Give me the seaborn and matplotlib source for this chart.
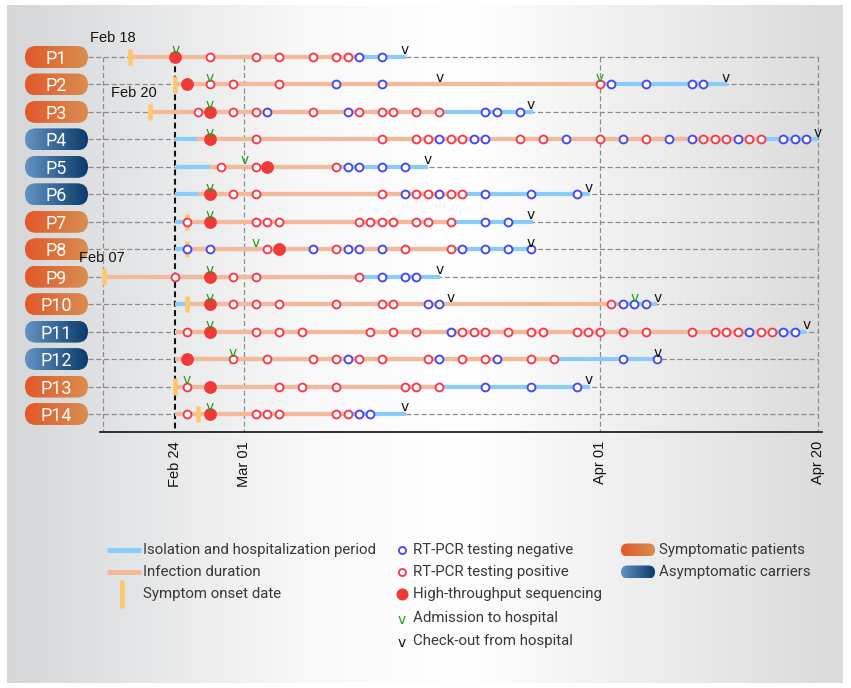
import numpy as np
import pandas as pd
import matplotlib
matplotlib.use("Agg")
import matplotlib.pyplot as plt
from matplotlib.colors import LinearSegmentedColormap
from matplotlib.patches import FancyBboxPatch
import seaborn as sns


# ----------------------- Data (days counted from Feb 24, 2020)
patients = ["P1", "P2", "P3", "P4", "P5", "P6", "P7",
            "P8", "P9", "P10", "P11", "P12", "P13", "P14"]

symptomatic = [True, True, True, False, False, False, True,
               True, True, True, False, False, True, True]

# symptom onset (left of Feb 24 the axis is compressed)
onset = [-4.0, 0.0, -2.2, None, None, None, 1.0,
         1.0, -6.2, 1.0, None, None, 0.0, 2.0]

onset_labels = {"P1": "Feb 18", "P3": "Feb 20", "P9": "Feb 07"}

infection = [(-4.0, 15.6), (0.0, 37.0), (-2.2, 23.3), (1.85, 51.4), (3.0, 14.3),
             (2.0, 25.4), (1.0, 24.4), (1.0, 24.4), (-6.2, 16.4), (1.0, 38.5),
             (0.0, 52.4), (0.0, 33.4), (0.0, 23.35), (0.0, 15.5)]

isolation = [[(0, 20.1)], [(0, 23), (37, 48.1)], [(0, 31.2)], [(0, 56)], [(0, 22)],
             [(0, 36.1)], [(0, 31.2)], [(0, 31.2)], [(0, 23.06)], [(0, 24), (38, 42)],
             [(0, 55)], [(0, 42)], [(0, 36.1)], [(0, 20.1)]]

negative = [[16, 18],
            [14, 18, 38, 41, 45, 46],
            [8, 15, 27, 28, 30],
            [23, 26, 27, 34, 39, 43, 45, 49, 53, 54, 55],
            [15, 16, 18, 20],
            [20, 23, 27, 31, 35],
            [27, 29],
            [1, 3, 12, 15, 16, 18, 25, 27, 29, 31],
            [18, 20, 21],
            [22, 23, 39, 40, 41],
            [24, 50, 53, 54],
            [15, 23, 28, 39, 42],
            [27, 31, 35],
            [16, 17]]

positive = [[3, 7, 9, 12, 14, 15],
            [3, 5, 9, 37],
            [2, 5, 7, 12, 16, 18, 19, 21, 23],
            [7, 18, 21, 22, 24, 25, 30, 32, 37, 41, 46, 47, 48, 50, 51],
            [4, 7, 14],
            [5, 7, 18, 21, 22, 24, 25],
            [1, 7, 8, 9, 16, 17, 18, 19, 21, 22, 24],
            [8, 14, 20, 24],
            [0, 5, 7, 16],
            [5, 7, 9, 14, 18, 19, 38],
            [1, 7, 9, 11, 17, 19, 21, 25, 26, 27, 29, 31, 32, 35, 36, 37,
             39, 41, 45, 47, 48, 49, 51, 52],
            [5, 8, 12, 14, 16, 18, 22, 25, 27, 31, 33],
            [1, 9, 11, 14, 20, 21, 23],
            [1, 7, 8, 9, 14, 15]]

sequencing = [[0], [1], [3], [3], [8], [3], [3], [9], [3], [3], [3], [1], [3], [3]]

admission = [[0], [3, 37], [3], [3], [6], [3], [3], [7], [3], [3, 40], [3], [5], [1], [3]]

checkout = [[20], [23, 48], [31], [56], [22], [36], [31], [31], [23], [24, 42],
            [55], [42], [36], [20]]

tick_days = [-6.3, 0, 6, 37, 56]
tick_labels = ["", "Feb 24", "Mar 01", "Apr 01", "Apr 20"]


# ----------------------- Colours
c_iso = "#87cdf8"
c_inf = "#f4b998"
c_onset = "#fdc86a"
c_neg = "#4646f2"
c_pos = "#f7374a"
c_seq = "#f03a3a"
c_adm = "#18a01c"
c_out = "#111111"
c_grid = "#8c8c8c"
c_text = "#383838"

cmap_sym = LinearSegmentedColormap.from_list("sym", ["#e2582a", "#d98e50"])
cmap_asym = LinearSegmentedColormap.from_list("asym", ["#6393c3", "#0a3b6b"])
cmap_bg = LinearSegmentedColormap.from_list(
    "bg", [(0, "#d4d6d8"), (0.35, "#f8f8f8"), (0.55, "#ffffff"), (1, "#dadada")])


# ----------------------- Long table of test events
rows = []
for i in range(len(patients)):
    for d in negative[i]:
        rows.append({"row": i, "day": d, "kind": "negative"})
    for d in positive[i]:
        rows.append({"row": i, "day": d, "kind": "positive"})
    for d in sequencing[i]:
        rows.append({"row": i, "day": d, "kind": "sequencing"})
events = pd.DataFrame(rows)


# ----------------------- Figure
sns.set_style("white")
plt.rcParams["font.family"] = ["Roboto", "DejaVu Sans"]

W, H = 851, 688
fig = plt.figure(figsize=(W / 100, H / 100), dpi=100)

deco = fig.add_axes([0, 0, 1, 1], zorder=0)
deco.set_xlim(0, W)
deco.set_ylim(H, 0)
deco.axis("off")

grad = np.linspace(0, 1, 256).reshape(1, -1)
deco.imshow(grad, cmap=cmap_bg, extent=[7, 843, 683, 5], aspect="auto", zorder=0)

ax = fig.add_axes([100 / W, 1 - 432 / H, 722 / W, 392 / H], zorder=1)
ax.set_facecolor("none")
ax.set_xlim(-6.58, 56.36)
ax.set_ylim(13.656, -0.619)
n = len(patients)
y_bottom = ax.get_ylim()[0]

# row guide lines and date guide lines
ax.hlines(range(n), -7.63, 56, colors=c_grid, lw=0.9, linestyles=(0, (4, 2.2)),
          zorder=1, clip_on=False)
for d in [tick_days[0], 6, 37, 56]:
    ax.vlines(d, 0, y_bottom, colors=c_grid, lw=0.9, linestyles=(0, (4, 2.2)), zorder=1)
ax.vlines(0, 0, y_bottom, colors="#111111", lw=1.5, linestyles=(0, (2.8, 1.7)), zorder=1.5)

# periods
for i in range(n):
    for a, b in isolation[i]:
        ax.plot([a, b], [i, i], color=c_iso, lw=3, solid_capstyle="butt", zorder=2)
    a, b = infection[i]
    ax.plot([a, b], [i, i], color=c_inf, lw=3, solid_capstyle="butt", zorder=2.5)
    if onset[i] is not None:
        ax.vlines(onset[i], i - 0.3, i + 0.3, colors=c_onset, lw=3.3, zorder=3)
        if patients[i] in onset_labels:
            dx = {"P1": -17, "P3": -16, "P9": -2}[patients[i]]
            ax.annotate(onset_labels[patients[i]], (onset[i], i), xytext=(dx, 15),
                        textcoords="offset pixels", ha="center", va="baseline",
                        fontsize=10.5, family="Liberation Sans", color="#111111")

# tests
sns.scatterplot(data=events[events["kind"] == "negative"], x="day", y="row", ax=ax,
                s=32, color="white", edgecolor=c_neg, linewidth=1.35, zorder=4, legend=False)
sns.scatterplot(data=events[events["kind"] == "positive"], x="day", y="row", ax=ax,
                s=32, color="white", edgecolor=c_pos, linewidth=1.35, zorder=4, legend=False)
sns.scatterplot(data=events[events["kind"] == "sequencing"], x="day", y="row", ax=ax,
                s=85, color=c_seq, edgecolor=c_seq, linewidth=0, zorder=4, legend=False)

# admission / check-out marks
for i in range(n):
    for d in admission[i]:
        ax.annotate("v", (d, i), xytext=(0, 2.5), textcoords="offset pixels",
                    ha="center", va="baseline", fontsize=10, color=c_adm,
                    family="DejaVu Sans", zorder=5)
    for d in checkout[i]:
        ax.annotate("v", (d, i), xytext=(0, 2.5), textcoords="offset pixels",
                    ha="center", va="baseline", fontsize=10, color=c_out,
                    family="DejaVu Sans", zorder=5)

# axis
for s in ["top", "left", "right"]:
    ax.spines[s].set_visible(False)
ax.spines["bottom"].set_color("#222222")
ax.spines["bottom"].set_linewidth(1.3)
ax.set_yticks([])
ax.set_xticks(tick_days)
ax.set_xticklabels(tick_labels, rotation=90, fontsize=10.5, family="Liberation Sans",
                   color="#111111", va="top")
ax.tick_params(axis="x", direction="inout", length=7, width=1, color="#222222", pad=3)
ax.set_xlabel("")
ax.set_ylabel("")


# ----------------------- Patient pills
def pill(x0, yc, w, h, cmap, text=None, size=13):
    patch = FancyBboxPatch((x0, yc - h / 2), w, h,
                           boxstyle=f"round,pad=0,rounding_size={h / 2}",
                           fc="none", ec="none", zorder=2)
    deco.add_patch(patch)
    im = deco.imshow(grad, cmap=cmap, extent=[x0, x0 + w, yc + h / 2, yc - h / 2],
                     aspect="auto", zorder=2)
    im.set_clip_path(patch)
    if text:
        deco.text(x0 + w / 2, yc, text, color="white", fontsize=size,
                  ha="center", va="center_baseline", zorder=3)


for i, p in enumerate(patients):
    yc = H - ax.transData.transform((0, i))[1]
    pill(25, yc, 63, 22, cmap_sym if symptomatic[i] else cmap_asym, p)


# ----------------------- Legend
fs = 10.8
deco.plot([107, 141], [550, 550], color=c_iso, lw=3.5, solid_capstyle="butt")
deco.text(143, 550, "Isolation and hospitalization period", fontsize=fs, color=c_text, va="center")
deco.plot([107, 141], [572, 572], color=c_inf, lw=3.5, solid_capstyle="butt")
deco.text(143, 572, "Infection duration", fontsize=fs, color=c_text, va="center")
deco.plot([122, 122], [580, 608], color=c_onset, lw=3.3, solid_capstyle="butt")
deco.text(143, 594, "Symptom onset date", fontsize=fs, color=c_text, va="center")

deco.scatter([402], [550], s=26, color="white", edgecolor=c_neg, linewidth=1.3, zorder=3)
deco.text(413, 550, "RT-PCR testing negative", fontsize=fs, color=c_text, va="center")
deco.scatter([402], [572], s=26, color="white", edgecolor=c_pos, linewidth=1.3, zorder=3)
deco.text(413, 572, "RT-PCR testing positive", fontsize=fs, color=c_text, va="center")
deco.scatter([402], [594], s=75, color=c_seq, linewidth=0, zorder=3)
deco.text(413, 594, "High-throughput sequencing", fontsize=fs, color=c_text, va="center")
deco.text(402, 620, "v", fontsize=10, color=c_adm, ha="center", va="center",
          family="DejaVu Sans")
deco.text(413, 618, "Admission to hospital", fontsize=fs, color=c_text, va="center")
deco.text(402, 643, "v", fontsize=10, color=c_out, ha="center", va="center",
          family="DejaVu Sans")
deco.text(413, 641, "Check-out from hospital", fontsize=fs, color=c_text, va="center")

pill(621, 550, 34, 13, cmap_sym)
deco.text(659, 550, "Symptomatic patients", fontsize=fs, color=c_text, va="center")
pill(621, 572, 34, 13, cmap_asym)
deco.text(659, 572, "Asymptomatic carriers", fontsize=fs, color=c_text, va="center")

fig.savefig("out.png", dpi=100)
